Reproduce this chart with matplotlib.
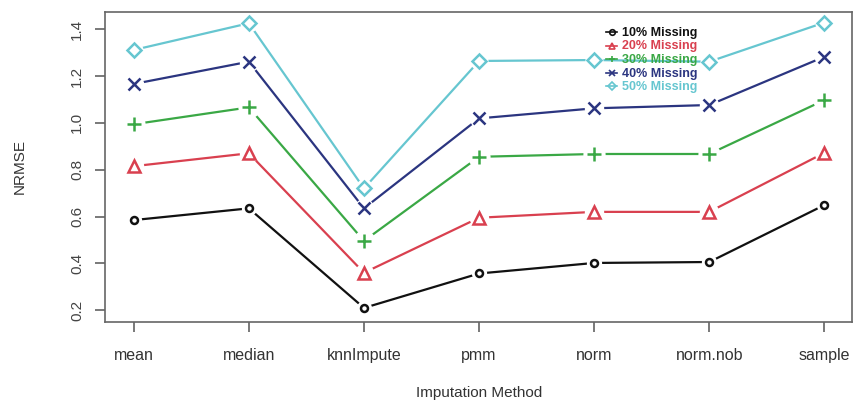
import matplotlib
matplotlib.use("Agg")
import matplotlib.pyplot as plt
from matplotlib.lines import Line2D

plt.rcParams['font.family'] = ['Liberation Sans', 'DejaVu Sans']

methods = ["mean", "median", "knnImpute", "pmm", "norm", "norm.nob", "sample"]
series_names = ["10% Missing", "20% Missing", "30% Missing", "40% Missing", "50% Missing"]
miss10 = [0.585, 0.635, 0.21, 0.357, 0.402, 0.406, 0.649]
miss20 = [0.815, 0.87, 0.36, 0.595, 0.62, 0.62, 0.872]
miss30 = [0.994, 1.066, 0.496, 0.855, 0.867, 0.867, 1.097]
miss40 = [1.166, 1.261, 0.635, 1.019, 1.062, 1.076, 1.282]
miss50 = [1.311, 1.425, 0.72, 1.264, 1.268, 1.261, 1.428]
yticks = [0.2, 0.4, 0.6, 0.8, 1.0, 1.2, 1.4]

colors = ['#111111', '#d9404f', '#3aa845', '#2b3580', '#66c6d0']
markers = ['o', '^', '+', 'x', 'D']
msizes = [5, 8, 10, 8, 7]
all_series = [miss10, miss20, miss30, miss40, miss50]

fig = plt.figure(figsize=(8.58, 4.05), dpi=100)
ax = fig.add_axes([105/858, 1-322/405, (852-105)/858, (322-12)/405])

x = list(range(1, len(methods)+1))
for vals, c, m, ms in zip(all_series, colors, markers, msizes):
    ax.plot(x, vals, '-', color=c, lw=1.6, zorder=2)
    ax.plot(x, vals, linestyle='none', marker='o', ms=ms+6, mfc='white', mec='none', zorder=3)
    ax.plot(x, vals, linestyle='none', marker=m, ms=ms, mfc='none', mec=c, mew=1.8, zorder=4)

ax.set_xlim(0.75, 7.24)
ax.set_ylim(0.15, 1.473)
ax.set_xticks(x)
ax.set_xticklabels(methods, fontsize=11.5, color='#333333')
ax.set_yticks(yticks)
ax.set_yticklabels([f"{v:.1f}" for v in yticks], fontsize=11, color='#444444', rotation=90, va='center')
ax.tick_params(axis='both', direction='out', length=7, width=1.1, color='#555555')
ax.tick_params(axis='x', pad=12)
ax.tick_params(axis='y', pad=8)
for s in ax.spines.values():
    s.set_color('#666666')
    s.set_linewidth(1.2)

fig.text(479/858, 1-393/405, "Imputation Method", ha='center', va='center', fontsize=11, color='#333333')
fig.text(20/858, 1-167/405, "NRMSE", ha='center', va='center', rotation=90, fontsize=11, color='#333333')

handles = [Line2D([0], [0], color=c, lw=1.2, marker=m, ms=4, mfc='none', mec=c, mew=1.2)
           for c, m in zip(colors, markers)]
leg = ax.legend(handles, series_names, loc='upper left', bbox_to_anchor=((606-105)/747, 1-(27-12)/310),
                frameon=False, handlelength=0.9, handleheight=0.5, handletextpad=0.4,
                labelspacing=0.12, borderpad=0, borderaxespad=0, prop={'weight': 'bold', 'size': 9})
for t, c in zip(leg.get_texts(), colors):
    t.set_color(c)

fig.savefig("out.png", dpi=100)
